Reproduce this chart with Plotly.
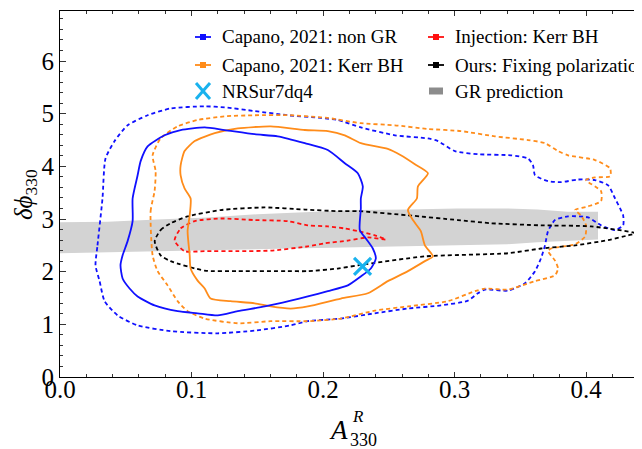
import plotly.graph_objects as go

# ---------------- data ----------------
# GR prediction band
gr_x = [0.0, 0.036, 0.074, 0.112, 0.150, 0.188, 0.226, 0.264, 0.302, 0.340, 0.363, 0.386, 0.409]
gr_upper = [2.94, 2.95, 2.99, 3.03, 3.09, 3.13, 3.17, 3.18, 3.20, 3.20, 3.18, 3.14, 3.14]
gr_lower = [2.35, 2.37, 2.39, 2.41, 2.42, 2.44, 2.46, 2.48, 2.50, 2.52, 2.56, 2.59, 2.61]

# Capano 2021 non GR, outer (dotted) contour
nongr_outer_x = [0.0270, 0.0285, 0.0323, 0.0346, 0.0415, 0.0514, 0.0666, 0.0841, 0.1100, 0.1252,
                 0.1480, 0.1731, 0.1982, 0.2112, 0.2287, 0.2546, 0.2797, 0.2873, 0.3002, 0.3177,
                 0.3429, 0.3558, 0.3596, 0.3611, 0.3710, 0.3809, 0.3938, 0.4067, 0.4167, 0.4220,
                 0.4258, 0.4281, 0.4281, 0.4220, 0.4113, 0.4015, 0.3862, 0.3763, 0.3710, 0.3687,
                 0.3656, 0.3611, 0.3535, 0.3406, 0.3231, 0.3177, 0.3101, 0.2896, 0.2645, 0.2393,
                 0.2135, 0.1884, 0.1754, 0.1480, 0.1199, 0.0841, 0.0590, 0.0438, 0.0339, 0.0301]
nongr_outer_y = [2.12, 2.50, 3.39, 4.15, 4.48, 4.78, 4.97, 5.10, 5.14, 5.12,
                 5.05, 4.97, 4.92, 4.88, 4.74, 4.59, 4.53, 4.48, 4.29, 4.23,
                 4.21, 4.15, 4.02, 3.83, 3.72, 3.70, 3.75, 3.74, 3.64, 3.39,
                 3.20, 3.07, 2.88, 2.79, 2.88, 3.03, 3.05, 2.98, 2.77, 2.50,
                 2.25, 2.01, 1.78, 1.64, 1.66, 1.59, 1.45, 1.36, 1.30, 1.21,
                 1.11, 1.06, 0.98, 0.88, 0.83, 0.87, 0.98, 1.17, 1.44, 1.82]

# Capano 2021 non GR, inner (solid) contour
nongr_inner_x = [0.0460, 0.0476, 0.0514, 0.0552, 0.0552, 0.0590, 0.0613, 0.0666, 0.0795, 0.0917,
                 0.1100, 0.1252, 0.1480, 0.1655, 0.1861, 0.2036, 0.2165, 0.2264, 0.2302, 0.2287,
                 0.2287, 0.2279, 0.2325, 0.2378, 0.2401, 0.2363, 0.2287, 0.2188, 0.2036, 0.1884,
                 0.1754, 0.1556, 0.1351, 0.1199, 0.1046, 0.0894, 0.0719, 0.0590, 0.0529, 0.0476]
nongr_inner_y = [2.12, 2.31, 2.58, 2.96, 3.39, 3.83, 4.10, 4.38, 4.59, 4.69,
                 4.74, 4.69, 4.61, 4.57, 4.44, 4.31, 4.06, 3.87, 3.62, 3.39,
                 3.20, 2.79, 2.63, 2.44, 2.25, 2.06, 1.91, 1.74, 1.63, 1.53,
                 1.45, 1.34, 1.25, 1.17, 1.21, 1.25, 1.36, 1.53, 1.68, 1.87]

# Capano 2021 Kerr BH, outer (dotted) contour
kerr_outer_x = [0.0704, 0.0689, 0.0719, 0.0727, 0.0704, 0.0765, 0.0894, 0.1046, 0.1252, 0.1480,
                0.1754, 0.1982, 0.2036, 0.2287, 0.2546, 0.2797, 0.3048, 0.3306, 0.3558, 0.3687,
                0.3786, 0.3862, 0.4067, 0.4182, 0.4182, 0.4067, 0.3999, 0.4113, 0.4113, 0.4015,
                0.3916, 0.3961, 0.3999, 0.3992, 0.3916, 0.3733, 0.3710, 0.3763, 0.3786, 0.3763,
                0.3611, 0.3406, 0.3231, 0.3154, 0.2949, 0.2645, 0.2393, 0.2135, 0.1884, 0.1602,
                0.1351, 0.1100, 0.0970, 0.0894, 0.0818, 0.0742]
kerr_outer_y = [2.31, 3.15, 3.53, 3.91, 4.21, 4.53, 4.76, 4.88, 4.95, 4.97,
                4.97, 4.93, 4.92, 4.82, 4.78, 4.71, 4.67, 4.57, 4.50, 4.44,
                4.29, 4.21, 4.12, 3.96, 3.81, 3.79, 3.74, 3.53, 3.34, 3.24,
                3.17, 3.07, 2.88, 2.67, 2.52, 2.44, 2.39, 2.21, 2.06, 1.93,
                1.82, 1.66, 1.68, 1.63, 1.44, 1.34, 1.26, 1.11, 1.06, 1.06,
                1.02, 1.11, 1.25, 1.44, 1.74, 2.01]

# Capano 2021 Kerr BH, inner (solid) contour
kerr_inner_x = [0.0986, 0.0970, 0.0986, 0.0993, 0.0947, 0.0917, 0.0917, 0.0947, 0.1024, 0.1176,
                0.1351, 0.1602, 0.1861, 0.2036, 0.2165, 0.2287, 0.2492, 0.2591, 0.2698, 0.2797,
                0.2721, 0.2713, 0.2645, 0.2683, 0.2743, 0.2774, 0.2835, 0.2774, 0.2645, 0.2492,
                0.2340, 0.2135, 0.1884, 0.1754, 0.1602, 0.1480, 0.1297, 0.1145, 0.1100, 0.1046,
                0.0993]
kerr_inner_y = [2.31, 2.77, 3.07, 3.39, 3.58, 3.83, 4.02, 4.29, 4.48, 4.63,
                4.72, 4.76, 4.69, 4.67, 4.59, 4.44, 4.33, 4.21, 4.04, 3.87,
                3.62, 3.39, 3.17, 2.98, 2.77, 2.50, 2.29, 2.20, 2.01, 1.82,
                1.59, 1.49, 1.34, 1.30, 1.34, 1.40, 1.44, 1.49, 1.68, 1.83,
                2.06]

# Injection: Kerr BH
inj_x = [0.0871, 0.0917, 0.1024, 0.1221, 0.1480, 0.1731, 0.1884, 0.2036, 0.2165, 0.2264,
         0.2393, 0.2477, 0.2340, 0.2188, 0.2013, 0.1884, 0.1602, 0.1351, 0.1100, 0.0947]
inj_y = [2.59, 2.82, 2.96, 3.01, 2.98, 2.96, 2.88, 2.86, 2.82, 2.77,
         2.69, 2.61, 2.65, 2.59, 2.54, 2.48, 2.40, 2.39, 2.39, 2.39]

# Ours: fixing polarization
ours_x = [0.0720, 0.0765, 0.0841, 0.0970, 0.1221, 0.1556, 0.1861, 0.2112, 0.2264, 0.2645,
          0.3025, 0.3276, 0.3656, 0.4037, 0.4372, 0.4319, 0.4167, 0.3916, 0.3656, 0.3406,
          0.2774, 0.2264, 0.2112, 0.1884, 0.1731, 0.1351, 0.1100, 0.0841, 0.0765]
ours_y = [2.58, 2.79, 2.92, 3.05, 3.17, 3.22, 3.18, 3.15, 3.15, 3.07,
          2.98, 2.92, 2.88, 2.86, 2.73, 2.69, 2.60, 2.50, 2.44, 2.35,
          2.29, 2.12, 2.06, 2.01, 2.01, 2.01, 2.02, 2.20, 2.31]

# NRSur7dq4 estimate
nrsur_x = [0.230]
nrsur_y = [2.10]

x_tickvals = [0.0, 0.1, 0.2, 0.3, 0.4]
x_ticktext = ["0.0", "0.1", "0.2", "0.3", "0.4"]
y_tickvals = [0, 1, 2, 3, 4, 5, 6]

legend_labels = ["Capano, 2021: non GR", "Capano, 2021: Kerr BH", "NRSur7dq4",
                 "Injection: Kerr BH", "Ours: Fixing polarization", "GR prediction"]

# ---------------- styles ----------------
BLUE = "#1010ff"
ORANGE = "#ff8c1a"
RED = "#ff1010"
BLACK = "#000000"
GRAY = "#d3d3d3"
CYAN = "#19b2ee"
FONT = "Liberation Serif, DejaVu Serif, serif"
DASH = "4px,3px"


def closed(a):
    return list(a) + [a[0]]


fig = go.Figure()

fig.add_trace(go.Scatter(x=gr_x + gr_x[::-1], y=gr_upper + gr_lower[::-1], fill="toself",
                         fillcolor=GRAY, line=dict(width=0, color=GRAY), mode="lines",
                         hoverinfo="skip", showlegend=False))

curves = [
    (nongr_outer_x, nongr_outer_y, BLUE, DASH),
    (kerr_outer_x, kerr_outer_y, ORANGE, DASH),
    (ours_x, ours_y, BLACK, DASH),
    (inj_x, inj_y, RED, DASH),
    (kerr_inner_x, kerr_inner_y, ORANGE, "solid"),
    (nongr_inner_x, nongr_inner_y, BLUE, "solid"),
]
for xs, ys, col, dash in curves:
    fig.add_trace(go.Scatter(x=closed(xs), y=closed(ys), mode="lines",
                             line=dict(color=col, width=1.8, dash=dash, shape="spline", smoothing=0.6),
                             showlegend=False))

fig.add_trace(go.Scatter(x=nrsur_x, y=nrsur_y, mode="markers",
                         marker=dict(symbol="x-thin", size=17, line=dict(width=3.2, color=CYAN)),
                         showlegend=False))

# ---------------- layout helpers (pixel -> paper) ----------------
L, R, T, B = 52, 2, 3, 80
W, H = 642, 449
PW, PH = W - L - R, H - T - B


def px(x):
    return (x - L) / PW


def py(y):
    return (H - B - y) / PH


annotations = []
shapes = []

# legend
rows = [29, 57, 83]
col1_sym, col1_txt = 195, 212
col2_sym, col2_txt = 428, 445
leg_items = [
    (col1_sym, col1_txt, rows[0], legend_labels[0], "line", BLUE),
    (col1_sym, col1_txt, rows[1], legend_labels[1], "line", ORANGE),
    (col1_sym, col1_txt, rows[2], legend_labels[2], "x", CYAN),
    (col2_sym, col2_txt, rows[0], legend_labels[3], "line", RED),
    (col2_sym, col2_txt, rows[1], legend_labels[4], "line", BLACK),
    (col2_sym, col2_txt, rows[2], legend_labels[5], "rect", "#8c8c8c"),
]
for sx, tx, ry, label, kind, col in leg_items:
    annotations.append(dict(x=px(tx), y=py(ry), xref="paper", yref="paper", text=label,
                            showarrow=False, xanchor="left", yanchor="middle",
                            font=dict(family=FONT, size=19, color="black")))
    if kind == "line":
        shapes.append(dict(type="line", xref="paper", yref="paper", x0=px(sx - 8), x1=px(sx + 8),
                           y0=py(ry), y1=py(ry), line=dict(color=col, width=1.8)))
        shapes.append(dict(type="rect", xref="paper", yref="paper", x0=px(sx - 3), x1=px(sx + 3),
                           y0=py(ry - 3), y1=py(ry + 3), line=dict(width=0), fillcolor=col))
    elif kind == "rect":
        shapes.append(dict(type="rect", xref="paper", yref="paper", x0=px(sx - 7), x1=px(sx + 7),
                           y0=py(ry - 3.5), y1=py(ry + 3.5), line=dict(width=0), fillcolor=col))
    else:
        shapes.append(dict(type="line", xref="paper", yref="paper", x0=px(sx - 7), x1=px(sx + 7),
                           y0=py(ry - 8), y1=py(ry + 8), line=dict(color=col, width=3)))
        shapes.append(dict(type="line", xref="paper", yref="paper", x0=px(sx - 7), x1=px(sx + 7),
                           y0=py(ry + 8), y1=py(ry - 8), line=dict(color=col, width=3)))

# axis titles
annotations.append(dict(x=px(330), y=py(422), xref="paper", yref="paper", text="<i>A</i>",
                        showarrow=False, xanchor="center", yanchor="middle",
                        font=dict(family=FONT, size=27, color="black")))
annotations.append(dict(x=px(342), y=py(409), xref="paper", yref="paper", text="<i>R</i>",
                        showarrow=False, xanchor="left", yanchor="middle",
                        font=dict(family=FONT, size=17, color="black")))
annotations.append(dict(x=px(340), y=py(432), xref="paper", yref="paper", text="330",
                        showarrow=False, xanchor="left", yanchor="middle",
                        font=dict(family=FONT, size=18, color="black")))
annotations.append(dict(x=px(17), y=py(187), xref="paper", yref="paper",
                        text="<i>δϕ</i><sub>330</sub>", textangle=-90,
                        showarrow=False, xanchor="center", yanchor="middle",
                        font=dict(family=FONT, size=25, color="black")))

axis_common = dict(showgrid=False, zeroline=False, showline=True, linecolor="black", linewidth=1,
                   mirror="allticks", ticks="inside", tickcolor="#333333", tickwidth=1,
                   tickfont=dict(family=FONT, size=25, color="black"))

fig.update_layout(
    width=W, height=H,
    margin=dict(l=L, r=R, t=T, b=B, pad=0),
    paper_bgcolor="white", plot_bgcolor="white",
    showlegend=False,
    font=dict(family=FONT),
    xaxis=dict(range=[0, 0.447], tickvals=x_tickvals, ticktext=x_ticktext, ticklen=5,
               ticklabelstandoff=-10,
               minor=dict(dtick=0.02, tick0=0, ticks="inside", ticklen=3, tickcolor="#333333"),
               **axis_common),
    yaxis=dict(range=[0, 6.95], tickvals=y_tickvals, ticklen=6,
               minor=dict(dtick=0.2, tick0=0, ticks="inside", ticklen=3, tickcolor="#333333"),
               **axis_common),
    annotations=annotations,
    shapes=shapes,
)

fig.write_html("out.html")
